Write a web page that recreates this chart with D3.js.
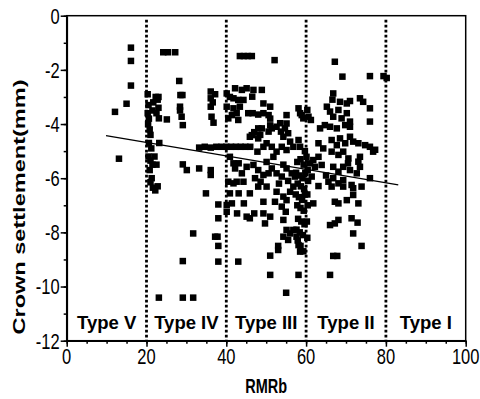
<!DOCTYPE html>
<html>
<head>
<meta charset="utf-8">
<script src="https://cdn.jsdelivr.net/npm/d3@7"></script>
<style>
  body { margin: 0; background: #fff; }
  text { font-family: "Liberation Sans", Arial, sans-serif; fill: #000; }
</style>
</head>
<body>
<div class="chart"></div>
<script>
// data: [RMRb, crown settlement (mm)], grouped by rock type zone
const pointsTypeV = [
  [12.1,-3.55],[13.1,-5.28],[15.0,-3.25],[16.1,-1.18],[16.1,-1.67],[16.1,-2.58]
];
const pointsTypeIV = [
  [20.3,-2.9],[20.5,-3.3],[20.3,-3.6],[20.6,-3.8],[20.4,-4.0],[20.8,-4.2],[21.0,-4.4],[20.6,-4.7],
  [21.2,-4.9],[20.5,-5.2],[21.0,-5.35],[21.5,-5.5],[20.8,-5.7],[21.3,-6.0],[21.0,-6.15],[21.6,-6.35],
  [22.2,-6.45],[22.8,-6.3],[22.0,-5.2],[22.5,-5.5],[21.7,-3.2],[22.3,-3.0],[22.8,-3.1],[23.0,-3.4],
  [22.5,-3.6],[21.5,-3.5],[23.0,-3.0],[23.2,-4.7],[23.1,-3.79],[25.1,-3.83],[24.2,-1.35],[25.4,-1.35],
  [27.2,-1.35],[28.2,-2.41],[28.5,-2.93],[29.0,-2.93],[28.4,-3.36],[28.4,-3.5],[28.8,-3.73],[29.1,-4.04],
  [29.1,-5.49],[30.1,-5.7],[33.2,-5.64],[34.9,-6.56],[31.7,-8.04],[29.1,-9.06],[29.1,-10.41],[31.7,-10.41],
  [23.1,-10.41],[36.1,-2.8],[36.1,-3.05],[36.6,-3.2],[36.1,-3.36],[36.3,-3.73],[36.8,-3.95],[37.2,-2.9],
  [33.2,-4.87],[34.6,-4.84],[36.1,-4.87],[37.5,-4.84],[38.8,-4.84],[36.1,-5.7],[36.1,-5.88],[37.2,-8.16],
  [37.8,-8.16],[38.0,-8.5],[38.0,-7.48],[38.0,-6.97],[38.0,-9.08]
];
const pointsTypeIII = [
  [43.4,-1.49],[44.4,-1.49],[45.4,-1.49],[46.4,-1.49],[52.1,-1.64],
  [40.1,-2.87],[40.9,-3.0],[41.8,-3.05],[42.2,-2.68],[43.0,-3.11],[43.9,-2.74],[44.3,-3.11],[45.1,-2.68],
  [46.8,-2.74],[46.5,-2.99],[48.9,-2.74],[40.1,-3.36],[41.8,-3.42],[43.4,-3.36],[40.5,-3.79],[41.4,-3.67],
  [42.6,-3.6],[43.0,-3.85],[45.5,-3.6],[46.6,-3.6],[48.0,-3.65],[49.3,-3.6],[50.6,-3.67],[49.3,-3.24],
  [51.0,-3.36],[51.0,-3.8],[51.0,-4.05],[50.6,-4.28],[51.4,-4.16],[48.0,-4.16],[48.9,-4.16],[48.5,-4.4],
  [46.4,-4.41],[48.0,-4.53],[45.9,-4.47],[47.0,-4.3],[52.6,-4.1],[53.5,-3.97],[53.7,-4.28],[54.7,-4.16],
  [54.3,-4.47],[55.5,-4.34],[55.1,-3.67],[55.1,-3.98],[58.1,-3.42],[58.5,-3.6],[58.9,-3.67],[59.3,-3.79],
  [40.0,-4.84],[41.2,-4.84],[42.4,-4.84],[43.6,-4.84],[44.8,-4.84],[46.0,-4.84],[47.8,-5.02],[49.3,-4.84],
  [50.1,-4.71],[51.4,-4.84],[52.6,-5.02],[53.9,-4.84],[55.1,-4.96],[56.0,-4.65],[56.8,-4.84],[58.1,-4.59],
  [58.5,-4.84],[51.8,-5.21],[59.7,-5.0],
  [40.9,-5.21],[41.8,-5.45],[43.1,-5.45],[42.2,-5.64],[43.9,-5.82],[45.1,-5.58],[46.8,-5.51],[48.0,-5.7],
  [49.3,-5.88],[50.6,-5.82],[51.4,-5.64],[52.6,-5.82],[53.9,-5.94],[55.1,-5.64],[56.4,-5.82],[57.2,-5.94],
  [54.3,-5.5],[50.1,-5.4],
  [40.5,-6.13],[41.8,-6.19],[42.6,-6.13],[44.3,-6.13],[40.9,-6.56],[43.1,-6.56],[40.1,-6.99],[40.1,-7.24],
  [41.4,-6.93],[45.9,-6.56],[45.1,-7.42],[45.9,-7.48],[47.0,-7.3],[48.0,-6.31],[48.6,-6.13],[50.1,-6.31],
  [49.3,-6.87],[49.3,-7.3],[49.7,-7.67],[51.0,-7.42],[52.2,-6.87],[52.6,-6.5],[53.2,-6.2],[54.3,-6.68],
  [53.9,-7.05],[55.1,-6.81],[56.0,-6.5],[56.8,-6.31],[55.5,-6.1],[54.3,-7.54],[55.1,-7.91],[54.3,-8.16],
  [56.0,-8.04],[56.8,-7.91],[55.5,-8.28],[53.0,-8.5],[53.0,-8.65],[51.0,-8.86],[51.0,-9.57],[57.6,-8.16],
  [58.1,-8.47],[58.5,-8.71],[58.1,-9.57],[55.0,-10.23],[54.9,-7.24],[43.0,-9.08],[42.7,-7.3],[44.4,-6.93],
  [47.2,-6.0],
  [57.8,-5.4],[58.6,-5.3],[59.4,-5.5],[57.5,-5.8],[58.3,-5.9],[59.1,-6.0],[59.8,-5.8],[57.9,-6.2],
  [58.7,-6.3],[59.5,-6.4],[57.4,-6.6],[58.2,-6.7],[59.0,-6.8],[59.7,-6.6],[57.8,-7.0],[58.6,-7.1],
  [59.4,-7.2],[58.0,-7.5],[58.8,-7.6],[59.6,-7.7],[57.6,-7.9],[58.4,-8.0],[59.2,-8.1],[58.6,-8.5],
  [59.3,-8.7],[57.9,-8.3]
];
const pointsTypeII = [
  [60.3,-3.48],[60.6,-3.73],[61.2,-3.85],[60.1,-5.21],[61.0,-5.45],[61.4,-5.94],[61.8,-6.93],[63.1,-6.29],
  [60.4,-5.7],[60.5,-6.1],[60.3,-6.6],[60.4,-7.0],[60.2,-7.6],[60.3,-8.2],
  [67.2,-1.7],[69.1,-2.25],[76.0,-2.23],[79.4,-2.23],[80.2,-2.3],
  [66.8,-2.87],[66.6,-3.1],[68.5,-3.18],[70.2,-3.24],[71.0,-3.15],[73.5,-3.05],[74.3,-3.18],[76.0,-3.42],
  [76.0,-3.91],[65.2,-3.36],[66.0,-3.54],[66.8,-3.73],[68.1,-3.48],[68.9,-3.79],[70.2,-3.6],[71.0,-3.91],
  [64.7,-4.04],[63.5,-4.16],[66.0,-4.1],[67.7,-4.16],[69.8,-4.04],[71.0,-4.1],[63.1,-4.71],[64.3,-4.9],
  [66.4,-4.59],[67.7,-4.78],[68.5,-4.53],[69.8,-4.71],[71.0,-4.47],[71.8,-4.65],[73.1,-4.71],[74.8,-4.78],
  [76.0,-4.84],[76.8,-5.02],[77.3,-4.95],[66.4,-5.02],[68.1,-5.14],[69.3,-5.02],[70.6,-5.27],[73.5,-5.21],
  [61.8,-5.33],[63.1,-5.21],[62.2,-5.58],[63.9,-5.51],[66.8,-5.58],[68.1,-5.76],[69.3,-5.58],[71.0,-5.7],
  [73.1,-5.39],[73.5,-5.58],[72.7,-5.82],[66.8,-6.0],[68.1,-6.19],[69.3,-6.07],[71.4,-6.25],[73.9,-6.31],
  [76.0,-6.0],[65.6,-6.13],[66.4,-6.31],[69.3,-6.31],[71.8,-6.37],[67.2,-6.87],[68.1,-6.93],[70.2,-6.81],
  [71.8,-6.62],[73.1,-6.93],[66.0,-7.73],[67.2,-7.67],[68.1,-7.54],[71.4,-7.48],[72.9,-7.64],[71.8,-8.04],
  [73.9,-8.5],[66.8,-8.87],[67.8,-8.87],[66.0,-9.57],[65.0,-5.9],[70.5,-5.45]
];
// linear fit drawn in the figure, as end points
const trendLine = [[9.85,-4.43],[83.1,-6.25]];
const dividers = [20, 40, 60, 80];
const typeLabels = [
  {x:10, label:'Type V'}, {x:30, label:'Type IV'}, {x:50, label:'Type III'},
  {x:70, label:'Type II'}, {x:90, label:'Type I'}
];
const xTicks = [0, 20, 40, 60, 80, 100];
const xMinorTicks = d3.range(0, 101, 5);
const yTicks = [0, -2, -4, -6, -8, -10, -12];
const yMinorTicks = d3.range(0, -13, -1);

const svg_width = 480;
const svg_height = 399;
const margin = {top:15.7, right:14.3, bottom:58.3, left:66.7};
const chart_width = svg_width - margin.left - margin.right;
const chart_height = svg_height - margin.top - margin.bottom;

const svg = d3.select('.chart').append('svg')
    .attr('width', svg_width)
    .attr('height', svg_height)
    .style('background', '#fff');
const g = svg.append('g').attr('transform', `translate(${margin.left},${margin.top})`);

const x = d3.scaleLinear().domain([0, 100]).range([0, chart_width]);
const y = d3.scaleLinear().domain([-12, 0]).range([chart_height, 0]);

// dotted zone dividers
g.selectAll('.divider').data(dividers).join('line')
    .attr('class', 'divider')
    .attr('x1', d => x(d)).attr('x2', d => x(d))
    .attr('y1', y(0) + 4).attr('y2', y(-12))
    .attr('stroke', '#000')
    .attr('stroke-width', 2.8)
    .attr('stroke-dasharray', '2.8,2.2');

// points
const allPoints = [].concat(pointsTypeV, pointsTypeIV, pointsTypeIII, pointsTypeII);
const ms = 6.5;
g.selectAll('.pt').data(allPoints).join('rect')
    .attr('class', 'pt')
    .attr('x', d => x(d[0]) - ms / 2)
    .attr('y', d => y(d[1]) - ms / 2)
    .attr('width', ms).attr('height', ms)
    .attr('fill', '#000');

// fitted line
g.append('path')
    .datum(trendLine)
    .attr('d', d3.line().x(d => x(d[0])).y(d => y(d[1])))
    .attr('fill', 'none')
    .attr('stroke', '#000')
    .attr('stroke-width', 1.3);

// zone labels
g.selectAll('.type').data(typeLabels).join('text')
    .attr('class', 'type')
    .attr('x', d => x(d.x))
    .attr('y', 329 - margin.top)
    .attr('text-anchor', 'middle')
    .style('font-size', '18.5px')
    .style('font-weight', 'bold')
    .text(d => d.label);

// frame
g.append('rect')
    .attr('width', chart_width).attr('height', chart_height)
    .attr('fill', 'none').attr('stroke', '#000').attr('stroke-width', 1.5);

// axes: ticks from d3, labels placed through the same scales
g.append('g').attr('transform', `translate(0,${chart_height})`)
    .call(d3.axisBottom(x).tickValues(xTicks).tickFormat('').tickSizeInner(6).tickSizeOuter(0));
g.append('g').attr('transform', `translate(0,${chart_height})`)
    .call(d3.axisBottom(x).tickValues(xMinorTicks).tickFormat('').tickSize(3))
    .select('.domain').remove();
g.append('g')
    .call(d3.axisLeft(y).tickValues(yTicks).tickFormat('').tickSizeInner(6).tickSizeOuter(0));
g.append('g')
    .call(d3.axisLeft(y).tickValues(yMinorTicks).tickFormat('').tickSize(3))
    .select('.domain').remove();
g.selectAll('.domain').attr('stroke-width', 1.8);
g.selectAll('.tick line').attr('stroke-width', 1.5);

g.selectAll('.xlab').data(xTicks).join('text')
    .attr('class', 'xlab')
    .attr('transform', d => `translate(${x(d)},${364 - margin.top}) scale(1,1.35)`)
    .attr('text-anchor', 'middle')
    .style('font-size', '16.5px')
    .text(d => d);

g.selectAll('.ylab').data(yTicks).join('text')
    .attr('class', 'ylab')
    .attr('transform', d => `translate(-7,${y(d) + 7.8}) scale(1,1.35)`)
    .attr('text-anchor', 'end')
    .style('font-size', '16.5px')
    .text(d => d);

// axis titles
svg.append('text')
    .attr('transform', `translate(${margin.left + x(50)},393) scale(1,1.4)`)
    .attr('text-anchor', 'middle')
    .style('font-size', '14.5px')
    .style('font-weight', 'bold')
    .text('RMRb');

svg.append('text')
    .attr('transform', 'translate(25,207) rotate(-90)')
    .attr('text-anchor', 'middle')
    .attr('textLength', 255)
    .attr('lengthAdjust', 'spacingAndGlyphs')
    .style('font-size', '17px')
    .style('font-weight', 'bold')
    .text('Crown settlement(mm)');
</script>
</body>
</html>
